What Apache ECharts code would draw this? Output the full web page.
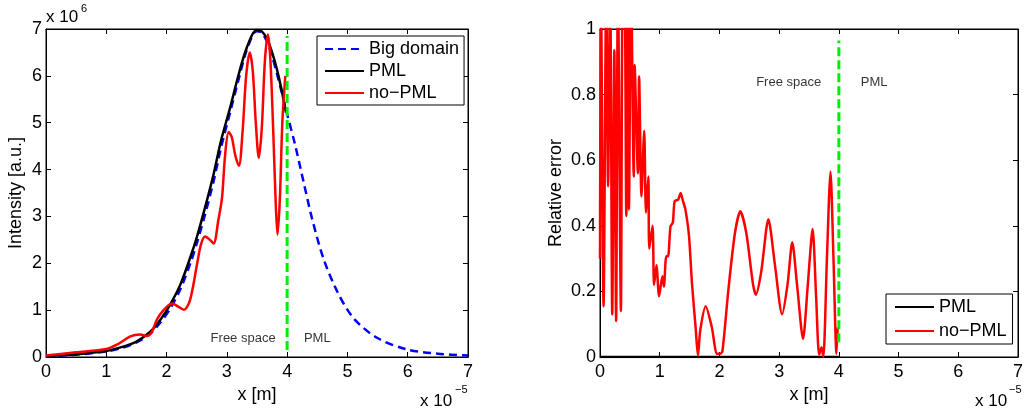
<!DOCTYPE html>
<html>
<head>
<meta charset="utf-8">
<script src="https://cdn.jsdelivr.net/npm/echarts@6/dist/echarts.min.js"></script>
<style>
  html, body { margin: 0; padding: 0; background: #fff; }
  #chart { width: 1026px; height: 412px; }
</style>
</head>
<body>
<div id="chart"></div>
<script>
  // x in units of 1e-5 m, intensity in units of 1e6
  var bigX = [0, 0.5, 1.0, 1.25, 1.5, 1.73, 1.9, 2.06, 2.23, 2.4, 2.5, 2.64, 2.78, 2.9, 3.06, 3.2, 3.33, 3.49, 3.58, 3.67, 3.75, 3.83, 3.9, 4.0, 4.13, 4.27, 4.41, 4.6, 4.83, 5.1, 5.49, 5.99, 6.5, 7.0]
  var bigY = [0.02, 0.05, 0.12, 0.19, 0.31, 0.5, 0.74, 1.03, 1.45, 2.02, 2.42, 3.05, 3.75, 4.45, 5.25, 5.95, 6.55, 6.95, 6.92, 6.72, 6.42, 6.05, 5.7, 5.18, 4.54, 3.75, 2.97, 2.11, 1.4, 0.83, 0.41, 0.16, 0.07, 0.03]

  var pmlX = [0, 0.5, 1.0, 1.25, 1.5, 1.73, 1.9, 2.06, 2.23, 2.4, 2.5, 2.64, 2.78, 2.9, 3.06, 3.2, 3.33, 3.49, 3.58, 3.67, 3.75, 3.83, 3.9, 3.98]
  var pmlY = [0.02, 0.06, 0.13, 0.21, 0.33, 0.54, 0.8, 1.12, 1.55, 2.15, 2.55, 3.2, 3.9, 4.6, 5.35, 6.05, 6.6, 6.98, 6.95, 6.78, 6.5, 6.14, 5.75, 5.22]

  var noPmlX = [0, 0.5, 1.0, 1.2, 1.4, 1.56, 1.67, 1.75, 1.84, 1.95, 2.09, 2.2, 2.29, 2.39, 2.5, 2.57, 2.64, 2.72, 2.78, 2.86, 2.92, 2.97, 3.03, 3.08, 3.14, 3.2, 3.26, 3.32, 3.38, 3.43, 3.48, 3.53, 3.58, 3.63, 3.68, 3.72, 3.77, 3.81, 3.84, 3.88, 3.92, 3.97]
  var noPmlY = [0.03, 0.1, 0.17, 0.28, 0.44, 0.48, 0.45, 0.52, 0.8, 1.0, 1.14, 1.07, 1.01, 1.22, 1.94, 2.4, 2.57, 2.5, 2.42, 2.93, 3.4, 4.3, 4.8, 4.7, 4.3, 4.08, 4.8, 6.0, 6.5, 6.1, 5.0, 4.25, 4.9, 6.3, 6.88, 6.4, 4.8, 3.3, 2.61, 3.4, 5.0, 6.0]

  // relative error, right panel
  var errPmlX = [0, 4]
  var errPmlY = [0, 0]

  var errX = [0, 0.015, 0.06, 0.105, 0.135, 0.17, 0.205, 0.24, 0.27, 0.30, 0.35, 0.38, 0.41, 0.44, 0.465, 0.485, 0.52, 0.565, 0.58, 0.635, 0.655, 0.695, 0.74, 0.77, 0.81, 0.825, 0.88, 0.905, 0.945, 0.99, 1.045, 1.07, 1.11, 1.14, 1.18, 1.22, 1.25, 1.31, 1.35, 1.39, 1.43, 1.49, 1.54, 1.6, 1.64, 1.68, 1.77, 1.87, 1.96, 2.01, 2.05, 2.15, 2.26, 2.35, 2.45, 2.56, 2.61, 2.7, 2.82, 2.93, 3.05, 3.14, 3.22, 3.3, 3.4, 3.48, 3.56, 3.62, 3.67, 3.71, 3.74, 3.8, 3.86, 3.91, 3.96, 3.98]
  var errY = [0.3, 1.15, 0.155, 1.15, 0.52, 1.15, 0.13, 0.935, 0.11, 1.15, 0.14, 1.15, 1.15, 0.43, 1.15, 0.45, 1.15, 0.55, 0.89, 0.56, 0.855, 0.49, 0.69, 0.44, 0.55, 0.33, 0.4, 0.22, 0.28, 0.185, 0.246, 0.215, 0.307, 0.307, 0.398, 0.41, 0.475, 0.48, 0.5, 0.475, 0.45, 0.37, 0.225, 0.093, 0.004, 0.083, 0.155, 0.093, 0.01, 0.01, 0.017, 0.205, 0.378, 0.444, 0.378, 0.225, 0.19, 0.26, 0.42, 0.28, 0.13, 0.22, 0.35, 0.22, 0.055, 0.22, 0.39, 0.18, 0.007, 0.03, 0.0, 0.3, 0.565, 0.3, 0.01, 0.09]

  var boundaryX = [4, 4]
  var boundaryLeftY = [0.15, 6.85]
  var boundaryRightY = [0.045, 0.965]

  var xTicks = [0, 1, 2, 3, 4, 5, 6, 7]

  function zip(xs, ys) {
    return xs.map(function (x, i) { return [x, ys[i]] })
  }

  var font = 'Liberation Sans, Arial, sans-serif'
  var chart = echarts.init(document.getElementById('chart'))

  function xAxisFor(grid, top) {
    return {
      type: 'value', gridIndex: grid, position: top ? 'top' : 'bottom',
      min: xTicks[0], max: xTicks[xTicks.length - 1], interval: 1,
      name: top ? '' : 'x [m]', nameLocation: 'middle', nameGap: 27,
      nameTextStyle: { color: '#000', fontSize: 18, fontFamily: font },
      axisLine: { show: true, onZero: false, lineStyle: { color: '#000', width: 1 } },
      axisTick: { show: true, inside: true, length: 5, lineStyle: { color: '#000' } },
      axisLabel: { show: !top, color: '#000', fontSize: 18, fontFamily: font, margin: 6 },
      splitLine: { show: false }
    }
  }

  function yAxisFor(grid, right, max, interval, name, gap) {
    return {
      type: 'value', gridIndex: grid, position: right ? 'right' : 'left',
      min: 0, max: max, interval: interval,
      name: right ? '' : name, nameLocation: 'middle', nameGap: gap, nameRotate: 90,
      nameTextStyle: { color: '#000', fontSize: 18, fontFamily: font },
      axisLine: { show: true, onZero: false, lineStyle: { color: '#000', width: 1 } },
      axisTick: { show: true, inside: true, length: 5, lineStyle: { color: '#000' } },
      axisLabel: { show: !right, color: '#000', fontSize: 18, fontFamily: font, margin: 4 },
      splitLine: { show: false }
    }
  }

  function annotation(grid, items) {
    return {
      type: 'scatter', xAxisIndex: grid * 2, yAxisIndex: grid * 2,
      symbolSize: 0, silent: true,
      label: { show: true, position: 'inside', formatter: '{b}', color: '#000', fontSize: 13, fontFamily: font },
      data: items
    }
  }

  // empty series so the top / right frame axes are attached to something
  function frame(grid) {
    return { type: 'line', xAxisIndex: grid * 2 + 1, yAxisIndex: grid * 2 + 1, silent: true, data: [] }
  }

  var legendBase = {
    orient: 'vertical', itemWidth: 39, itemHeight: 14,
    borderColor: '#000', borderWidth: 1, backgroundColor: '#fff',
    textStyle: { color: '#000', fontSize: 18, lineHeight: 18, fontFamily: font },
    itemStyle: { opacity: 0 },
    selectedMode: false
  }

  chart.setOption({
    animation: false,
    backgroundColor: '#fff',
    grid: [
      { left: 46, top: 29, width: 422, height: 328, show: true, borderColor: '#000', borderWidth: 1 },
      { left: 600, top: 29, width: 423, height: 328, show: true, borderColor: '#000', borderWidth: 1 }
    ],
    xAxis: [xAxisFor(0, false), xAxisFor(0, true), xAxisFor(1, false), xAxisFor(1, true)],
    yAxis: [
      yAxisFor(0, false, 7, 1, 'Intensity [a.u.]', 21),
      yAxisFor(0, true, 7, 1),
      yAxisFor(1, false, 1, 0.2, 'Relative error', 35),
      yAxisFor(1, true, 1, 0.2)
    ],
    legend: [
      Object.assign({}, legendBase, {
        left: 317, top: 36, itemGap: 4, padding: [4, 5, 3, 7],
        data: ['Big domain', 'PML', 'no\u2212PML']
      }),
      Object.assign({}, legendBase, {
        left: 886, top: 294, itemGap: 6, padding: [4, 6, 4, 8],
        data: ['PML', 'no\u2212PML']
      })
    ],
    series: [
      frame(0),
      frame(1),
      {
        name: 'Big domain', type: 'line', xAxisIndex: 0, yAxisIndex: 0,
        showSymbol: false, symbol: 'none', smooth: 0.3,
        lineStyle: { color: '#0000ff', width: 2.5, type: [8, 5] },
        itemStyle: { color: '#0000ff' },
        data: zip(bigX, bigY)
      },
      {
        name: 'PML', type: 'line', xAxisIndex: 0, yAxisIndex: 0,
        showSymbol: false, symbol: 'none', smooth: 0.3,
        lineStyle: { color: '#000', width: 2.5 },
        itemStyle: { color: '#000' },
        data: zip(pmlX, pmlY)
      },
      {
        name: 'no\u2212PML', type: 'line', xAxisIndex: 0, yAxisIndex: 0,
        showSymbol: false, symbol: 'none', smooth: 0.3,
        lineStyle: { color: '#ff0000', width: 2.5 },
        itemStyle: { color: '#ff0000' },
        data: zip(noPmlX, noPmlY)
      },
      {
        type: 'line', xAxisIndex: 0, yAxisIndex: 0, silent: true,
        showSymbol: false, symbol: 'none',
        lineStyle: { color: '#00ee00', width: 3, type: [9, 4] },
        data: zip(boundaryX, boundaryLeftY)
      },
      annotation(0, [
        { name: 'Free space', value: [3.27, 0.39] },
        { name: 'PML', value: [4.5, 0.39] }
      ]),
      {
        name: 'PML', type: 'line', xAxisIndex: 2, yAxisIndex: 2,
        showSymbol: false, symbol: 'none',
        lineStyle: { color: '#000', width: 2.5 },
        itemStyle: { color: '#000' },
        data: zip(errPmlX, errPmlY)
      },
      {
        name: 'no\u2212PML', type: 'line', xAxisIndex: 2, yAxisIndex: 2,
        showSymbol: false, symbol: 'none', smooth: 0.25,
        lineStyle: { color: '#ff0000', width: 2.5 },
        itemStyle: { color: '#ff0000' },
        data: zip(errX, errY)
      },
      {
        type: 'line', xAxisIndex: 2, yAxisIndex: 2, silent: true,
        showSymbol: false, symbol: 'none',
        lineStyle: { color: '#00ee00', width: 3, type: [9, 4] },
        data: zip(boundaryX, boundaryRightY)
      },
      annotation(1, [
        { name: 'Free space', value: [3.16, 0.836] },
        { name: 'PML', value: [4.59, 0.836] }
      ])
    ],
    graphic: [
      { type: 'text', left: 46, top: 9, style: { text: 'x 10', fill: '#000', font: '17px ' + font } },
      { type: 'text', left: 81, top: 3, style: { text: '6', fill: '#000', font: '11px ' + font } },
      { type: 'text', left: 420, top: 393, style: { text: 'x 10', fill: '#000', font: '17px ' + font } },
      { type: 'text', left: 455, top: 384, style: { text: '\u22125', fill: '#000', font: '11px ' + font } },
      { type: 'text', left: 975, top: 393, style: { text: 'x 10', fill: '#000', font: '17px ' + font } },
      { type: 'text', left: 1009, top: 384, style: { text: '\u22125', fill: '#000', font: '11px ' + font } }
    ]
  })
</script>
</body>
</html>
